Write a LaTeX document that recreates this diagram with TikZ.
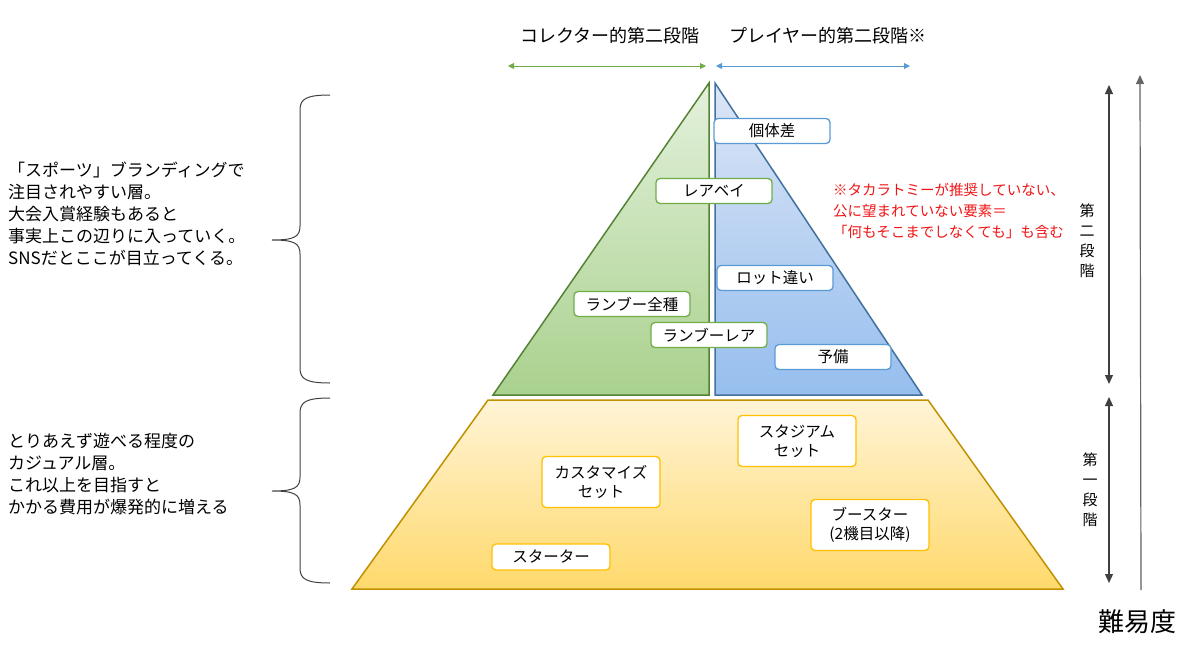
\documentclass[tikz,border=0pt]{standalone}
\usepackage{fontspec}
\setmainfont{Noto Sans CJK JP}
\usetikzlibrary{arrows.meta}
\definecolor{greenline}{RGB}{84,130,53}
\definecolor{boxgreen}{RGB}{112,173,71}
\definecolor{greentop}{RGB}{228,241,220}
\definecolor{greenbottom}{RGB}{169,209,142}
\definecolor{blueline}{RGB}{65,113,156}
\definecolor{boxblue}{RGB}{91,155,213}
\definecolor{bluetop}{RGB}{220,230,246}
\definecolor{bluebottom}{RGB}{150,190,238}
\definecolor{yellowline}{RGB}{191,144,0}
\definecolor{boxyellow}{RGB}{255,192,0}
\definecolor{yellowtop}{RGB}{255,244,214}
\definecolor{yellowbottom}{RGB}{255,217,108}
\definecolor{notered}{RGB}{240,20,20}
\definecolor{arrowgray}{RGB}{64,64,64}
\begin{document}
\begin{tikzpicture}[x=1pt,y=-1pt] % 1pt = 1px
\tikzstyle{mybox} = [draw, fill=white, rounded corners=4pt, line width=1.3pt, minimum width=116pt, minimum height=25pt, inner sep=1pt, font=\fontsize{15.5}{19}\selectfont] % box style
\tikzstyle{greenbox} = [mybox, draw=boxgreen]
\tikzstyle{bluebox} = [mybox, draw=boxblue]
\tikzstyle{yellowbox} = [mybox, draw=boxyellow, minimum width=118pt, minimum height=51pt, align=center]
\tikzstyle{mytext} = [inner sep=0pt, align=left, font=\fontsize{17}{22}\selectfont] % текст слева
\tikzstyle{toparrow} = [line width=1pt, {Triangle[length=6pt,width=6pt]}-{Triangle[length=6pt,width=6pt]}]
\tikzstyle{stagearrow} = [draw=arrowgray, line width=1.2pt, {Triangle[length=9pt,width=8pt]}-{Triangle[length=9pt,width=8pt]}]
\tikzstyle{stagelabel} = [inner sep=0pt, align=center, font=\fontsize{15}{20}\selectfont]

\useasboundingbox (0,0) rectangle (1200,667);

% пирамида
\shade[top color=greentop, bottom color=greenbottom, draw=greenline, line width=1.5pt] (709,83) -- (709,395) -- (493,395) -- cycle;
\shade[top color=bluetop, bottom color=bluebottom, draw=blueline, line width=1.5pt] (715,83) -- (922,395) -- (715,395) -- cycle;
\shade[top color=yellowtop, bottom color=yellowbottom, draw=yellowline, line width=1.5pt] (488,400) -- (928,400) -- (1063,589) -- (352,589) -- cycle;

% second stage boxes
\node[bluebox] (kotai) at (772,131) {個体差};
\node[greenbox] (rarebey) at (714,191) {レアベイ};
\node[bluebox] (lot) at (775,278) {ロット違い};
\node[greenbox] (allrb) at (632,304) {ランブー全種};
\node[greenbox] (rarerb) at (709,335) {ランブーレア};
\node[bluebox] (yobi) at (833,357) {予備};

% first stage boxes
\node[yellowbox] (stadium) at (797,441) {スタジアム\\セット};
\node[yellowbox] (custom) at (601,482) {カスタマイズ\\セット};
\node[yellowbox] (booster) at (870,525) {ブースター\\(2機目以降)};
\node[yellowbox, minimum height=26pt] (starter) at (551,557) {スターター};

% top arrows
\coordinate (col1) at (508,66);
\coordinate (col2) at (706,66);
\coordinate (pl1) at (716,66);
\coordinate (pl2) at (910,66);
\draw[toparrow, draw=boxgreen, fill=boxgreen] (col1) -- (col2);
\draw[toparrow, draw=boxblue, fill=boxblue] (pl1) -- (pl2);
\node[font=\fontsize{18}{20}\selectfont] (collector) at (610,36) {コレクター的第二段階};
\node[font=\fontsize{18}{20}\selectfont] (player) at (828,36) {プレイヤー的第二段階※};

% note
\node[mytext, anchor=west, text=notered, font=\fontsize{14.5}{21}\selectfont] (note) at (833,211) {※タカラトミーが推奨していない、\\公に望まれていない要素＝\\「何もそこまでしなくても」も含む};

% left texts and braces
\node[mytext, anchor=west] (sports) at (8,214) {「スポーツ」ブランディングで\\注目されやすい層。\\大会入賞経験もあると\\事実上この辺りに入っていく。\\SNSだとここが目立ってくる。};
\node[mytext, anchor=west] (casual) at (8,474) {とりあえず遊べる程度の\\カジュアル層。\\これ以上を目指すと\\かかる費用が爆発的に増える};
\draw[line width=1pt, arrowgray] (330,95) .. controls (306,95) and (300,99) .. (300,110) -- (300,226) .. controls (300,237) and (294,240) .. (272,240)
  .. controls (294,240) and (300,243) .. (300,254) -- (300,368) .. controls (300,379) and (306,383) .. (330,383);
\draw[line width=1pt, arrowgray] (330,398) .. controls (306,398) and (300,402) .. (300,413) -- (300,477) .. controls (300,488) and (294,491) .. (272,491)
  .. controls (294,491) and (300,494) .. (300,505) -- (300,568) .. controls (300,579) and (306,583) .. (330,583);

% stages on the right
\coordinate (s2top) at (1109,85);
\coordinate (s2bot) at (1109,384);
\coordinate (s1top) at (1109,397);
\coordinate (s1bot) at (1109,583);
\coordinate (difbot) at (1141,590);
\coordinate (diftop) at (1140,75);
\draw[stagearrow, fill=arrowgray] (s2top) -- (s2bot);
\draw[stagearrow, fill=arrowgray] (s1top) -- (s1bot);
\draw[line width=1.2pt, draw=gray!80!black, fill=gray!80!black, -{Triangle[length=9pt,width=8pt]}] (difbot) -- (diftop);
\node[stagelabel] (stage2) at (1087,241) {第\\二\\段\\階};
\node[stagelabel] (stage1) at (1090,490) {第\\一\\段\\階};
\node[font=\fontsize{26}{30}\selectfont] (difficulty) at (1137,622) {難易度};
\end{tikzpicture}
\end{document}
